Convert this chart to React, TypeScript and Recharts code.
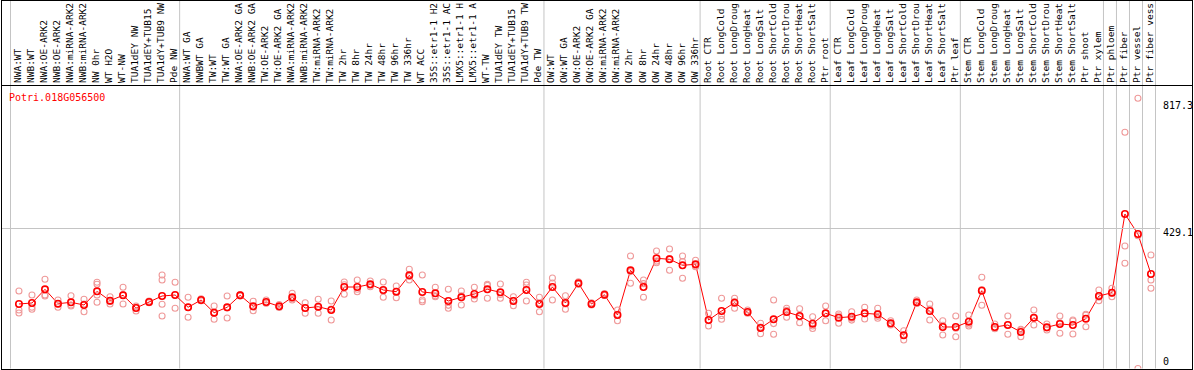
import { ComposedChart, Line, Scatter, XAxis, YAxis, ReferenceLine } from "recharts";

const categories = [
  "NWA:WT", "NWB:WT", "NWA:OE-ARK2", "NWB:OE-ARK2", "NWA:miRNA-ARK2", "NWB:miRNA-ARK2", "NW 0hr", "WT H2O", "WT-NW",
  "TUA1dEY NW", "TUA1dEY+TUB15", "TUA1dY+TUB9 NW", "Pde NW",
  "NWA:WT GA", "NWBWT GA", "TW:WT", "TW:WT GA", "NWA:OE-ARK2 GA", "NWB:OE-ARK2 GA", "TW:OE-ARK2", "TW:OE-ARK2 GA",
  "NWA:miRNA-ARK2", "NWB:miRNA-ARK2", "TW:miRNA-ARK2", "TW:miRNA-ARK2", "TW 2hr", "TW 8hr", "TW 24hr", "TW 48hr",
  "TW 96hr", "TW 336hr", "WT ACC", "35S::etr1-1 H2", "35S::etr1-1 AC", "LMX5::etr1-1 H", "LMX5::etr1-1 A", "WT-TW",
  "TUA1dEY TW", "TUA1dEY+TUB15", "TUA1dY+TUB9 TW", "Pde TW",
  "OW:WT", "OW:WT GA", "OW:OE-ARK2", "OW:OE-ARK2 GA", "OW:miRNA-ARK2", "OW:miRNA-ARK2", "OW 2hr", "OW 8hr",
  "OW 24hr", "OW 48hr", "OW 96hr", "OW 336hr",
  "Root CTR", "Root LongCold", "Root LongDroug", "Root LongHeat", "Root LongSalt", "Root ShortCold", "Root ShortDrou",
  "Root ShortHeat", "Root ShortSalt", "Ptr root",
  "Leaf CTR", "Leaf LongCold", "Leaf LongDroug", "Leaf LongHeat", "Leaf LongSalt", "Leaf ShortCold", "Leaf ShortDrou",
  "Leaf ShortHeat", "Leaf ShortSalt", "Ptr leaf",
  "Stem CTR", "Stem LongCold", "Stem LongDroug", "Stem LongHeat", "Stem LongSalt", "Stem ShortCold", "Stem ShortDrou",
  "Stem ShortHeat", "Stem ShortSalt", "Ptr shoot",
  "Ptr xylem", "Ptr phloem", "Ptr fiber", "Ptr vessel", "Ptr fiber vess",
];

// mean expression per sample
const meanValues = [
  197.7, 200.8, 242.7, 198.6, 202.9, 194.6, 236.6, 207.8, 224.4, 185.4, 203.8, 222.2, 225.3,
  187.6, 210.0, 171.0, 187.6, 224.4, 190.6, 203.8, 190.6, 218.2, 185.4, 189.4, 179.3, 249.8, 249.8,
  258.1, 240.6, 235.4, 285.7, 234.5, 230.5, 206.9, 218.2, 228.3, 242.7, 233.6, 206.9, 240.6, 197.7,
  249.8, 200.8, 261.1, 197.7, 226.2, 164.0, 301.0, 249.8, 337.8, 334.7, 316.3, 319.4,
  148.7, 176.2, 201.7, 173.2, 124.1, 150.8, 173.2, 160.9, 137.3, 169.2,
  155.7, 158.8, 169.2, 166.1, 138.5, 101.8, 202.9, 176.2, 127.2, 127.2,
  143.4, 238.5, 127.2, 133.3, 111.9, 155.7, 126.3, 136.4, 133.3, 152.6,
  222.2, 232.3, 473.5, 412.2, 289.6,
];

// replicates
const rep1 = [
  237.5, 225.3, 273.4, 210.0, 223.1, 212.1, 264.2, 220.1, 248.9, 191.6, 206.9, 286.6, 264.2,
  218.2, 214.0, 191.6, 222.2, 227.0, 206.0, 210.0, 196.0, 230.5, 201.7, 212.1, 206.9, 265.1, 271.3,
  268.2, 265.1, 252.9, 304.0, 286.6, 248.9, 242.7, 237.5, 248.9, 258.1, 259.0, 220.1, 264.2, 218.2,
  277.4, 223.1, 266.0, 201.0, 230.0, 179.3, 344.8, 271.3, 360.1, 366.3, 344.8, 331.9,
  169.2, 215.2, 215.2, 179.3, 138.5, 210.0, 184.5, 183.3, 158.8, 191.6,
  167.0, 174.1, 187.6, 184.5, 146.5, 115.9, 210.0, 197.7, 146.5, 160.9,
  164.0, 279.5, 136.4, 160.9, 120.1, 179.3, 136.4, 160.9, 148.7, 166.1,
  240.6, 245.8, 724.0, 828.2, 347.9,
];
const rep2 = [
  179.3, 187.6, 225.3, 187.6, 194.6, 174.1, 258.1, 205.6, 197.7, 176.2, 201.7, 271.3, 184.5,
  156.9, 208.0, 150.8, 154.8, 222.0, 177.2, 200.0, 187.0, 210.0, 169.2, 169.2, 148.7, 227.4, 235.4,
  250.7, 218.2, 217.0, 271.3, 210.0, 220.1, 184.5, 194.6, 213.0, 215.1, 215.1, 192.5, 255.9, 174.1,
  210.0, 181.4, 258.0, 195.0, 224.0, 146.5, 261.1, 218.2, 324.3, 301.0, 276.5, 312.0,
  130.3, 150.8, 184.5, 169.2, 106.7, 104.8, 156.9, 140.4, 130.3, 146.5,
  138.5, 153.9, 151.7, 153.9, 133.3, 87.4, 200.0, 148.7, 102.7, 97.5,
  130.3, 193.7, 123.2, 104.8, 97.5, 133.3, 118.0, 107.9, 105.7, 128.1,
  207.8, 220.1, 375.5, 0.0, 271.3,
];
const rep3 = [
  170.1, 181.4, 222.2, 197.7, 191.6, 197.7, 202.9, 197.7, 226.6, 188.4, 202.8, 160.9, 225.3,
  187.7, 208.0, 170.6, 185.8, 224.0, 188.6, 201.0, 189.0, 214.0, 185.3, 187.0, 182.3, 256.9, 242.7,
  255.4, 238.5, 236.3, 281.8, 204.7, 222.5, 193.5, 222.5, 223.0, 254.9, 226.7, 208.1, 206.9, 200.8,
  262.0, 198.0, 259.0, 197.0, 225.0, 166.2, 297.0, 260.0, 329.0, 336.8, 327.6, 314.3,
  146.6, 162.6, 205.4, 171.1, 127.1, 137.6, 178.2, 159.0, 122.8, 169.5,
  161.6, 148.4, 168.3, 159.9, 135.7, 102.1, 199.0, 182.2, 132.4, 123.2,
  135.9, 242.3, 122.0, 134.2, 118.1, 154.5, 124.5, 140.4, 145.6, 163.6,
  218.2, 231.0, 322.4, 407.0, 245.8,
];
// a fourth replicate where one was drawn
const rep4: (number | null)[] = categories.map(() => null);
rep4[6] = 225.3;
rep4[11] = 196.8;

const groupBounds = [0, 13, 41, 53, 63, 73, 84, 85, 86, 87, 88];
const valueTicks = [0, 429.1, 817.3];
const gridValues = [429.1];
const geneName = "Potri.018G056500";

const MONO = "'DejaVu Sans Mono', monospace";
const COL_OFFSET = 0.65;
const Y_MAX = 867.4;
const SEP_COLOR = "#c4c4c4";

const data = categories.map((name, i) => ({ name, pos: i + COL_OFFSET, mean: meanValues[i] }));

const repPoints: { pos: number; value: number }[] = [];
categories.forEach((_, i) => {
  [rep1[i], rep2[i], rep3[i], rep4[i]].forEach((v) => {
    if (v !== null && v !== undefined) repPoints.push({ pos: i + COL_OFFSET, value: v });
  });
});

function CategoryTick(props: any) {
  const { x, payload } = props;
  const name = categories[Math.floor(payload.value)];
  return (
    <text
      x={x}
      y={83}
      dy={2}
      transform={`rotate(-90 ${x} 83)`}
      textAnchor="start"
      fontFamily={MONO}
      fontSize={9.5}
      fill="#000"
    >
      {name}
    </text>
  );
}

// separator runs through the label band as well as the plot
function SeparatorShape(props: any) {
  const { x1, x2, y2 } = props;
  return <line x1={x1} x2={x2} y1={0} y2={y2} stroke={SEP_COLOR} strokeWidth={1} />;
}

function ValueTick(props: any) {
  const { y, payload } = props;
  const v = payload.value;
  return (
    <g>
      {gridValues.includes(v) && <line x1={1} x2={1160} y1={y} y2={y} stroke={SEP_COLOR} strokeWidth={1} />}
      <text x={1163} y={v === 0 ? y - 3.5 : y + 7.5} fontFamily={MONO} fontSize={10} fill="#000">
        {String(v)}
      </text>
    </g>
  );
}

function MeanDot(props: any) {
  const { cx, cy } = props;
  if (cx == null || cy == null) return null;
  return <circle cx={cx} cy={cy} r={3.2} fill="none" stroke="#ff0000" strokeWidth={1.6} />;
}

function RepDot(props: any) {
  const { cx, cy } = props;
  return <circle cx={cx} cy={cy} r={3} fill="none" stroke="#ef9a9a" strokeWidth={1.1} />;
}

export default function App() {
  return (
    <div style={{ position: "absolute", left: 0, top: 0, width: 1194, height: 370, background: "#fff" }}>
      <ComposedChart width={1194} height={370} data={data} margin={{ top: 0, right: 0, bottom: 1.5, left: 10.5 }}>
        <XAxis
          xAxisId="cat"
          dataKey="pos"
          type="number"
          domain={[0, 88]}
          allowDataOverflow
          orientation="top"
          ticks={data.map((d) => d.pos)}
          interval={0}
          height={85.5}
          axisLine={false}
          tickLine={false}
          tick={<CategoryTick />}
        />
        <YAxis
          orientation="right"
          type="number"
          domain={[0, Y_MAX]}
          allowDataOverflow
          ticks={valueTicks}
          interval={0}
          width={38.5}
          axisLine={false}
          tickLine={false}
          tick={<ValueTick />}
        />
        {groupBounds.map((b) => (
          <ReferenceLine
            key={b}
            xAxisId="cat"
            x={b}
            ifOverflow="visible"
            stroke={SEP_COLOR}
            shape={(p: any) => <SeparatorShape {...p} />}
          />
        ))}
        <Scatter
          xAxisId="cat"
          data={repPoints}
          dataKey="value"
          shape={<RepDot />}
          isAnimationActive={false}
        />
        <Line
          xAxisId="cat"
          dataKey="mean"
          stroke="#ff0000"
          strokeWidth={1}
          dot={<MeanDot />}
          activeDot={false}
          isAnimationActive={false}
        />
      </ComposedChart>
      <div
        style={{
          position: "absolute",
          left: 9,
          top: 92.5,
          fontFamily: MONO,
          fontSize: 10,
          lineHeight: "10px",
          color: "#ff0000",
          pointerEvents: "none",
        }}
      >
        {geneName}
      </div>
      <div style={{ position: "absolute", left: 1, top: 85, width: 1192, height: 1, background: "#000", pointerEvents: "none" }} />
      <div
        style={{
          position: "absolute",
          left: 1,
          top: 0,
          width: 1192,
          height: 370,
          border: "1px solid #000",
          boxSizing: "border-box",
          pointerEvents: "none",
        }}
      />
    </div>
  );
}
